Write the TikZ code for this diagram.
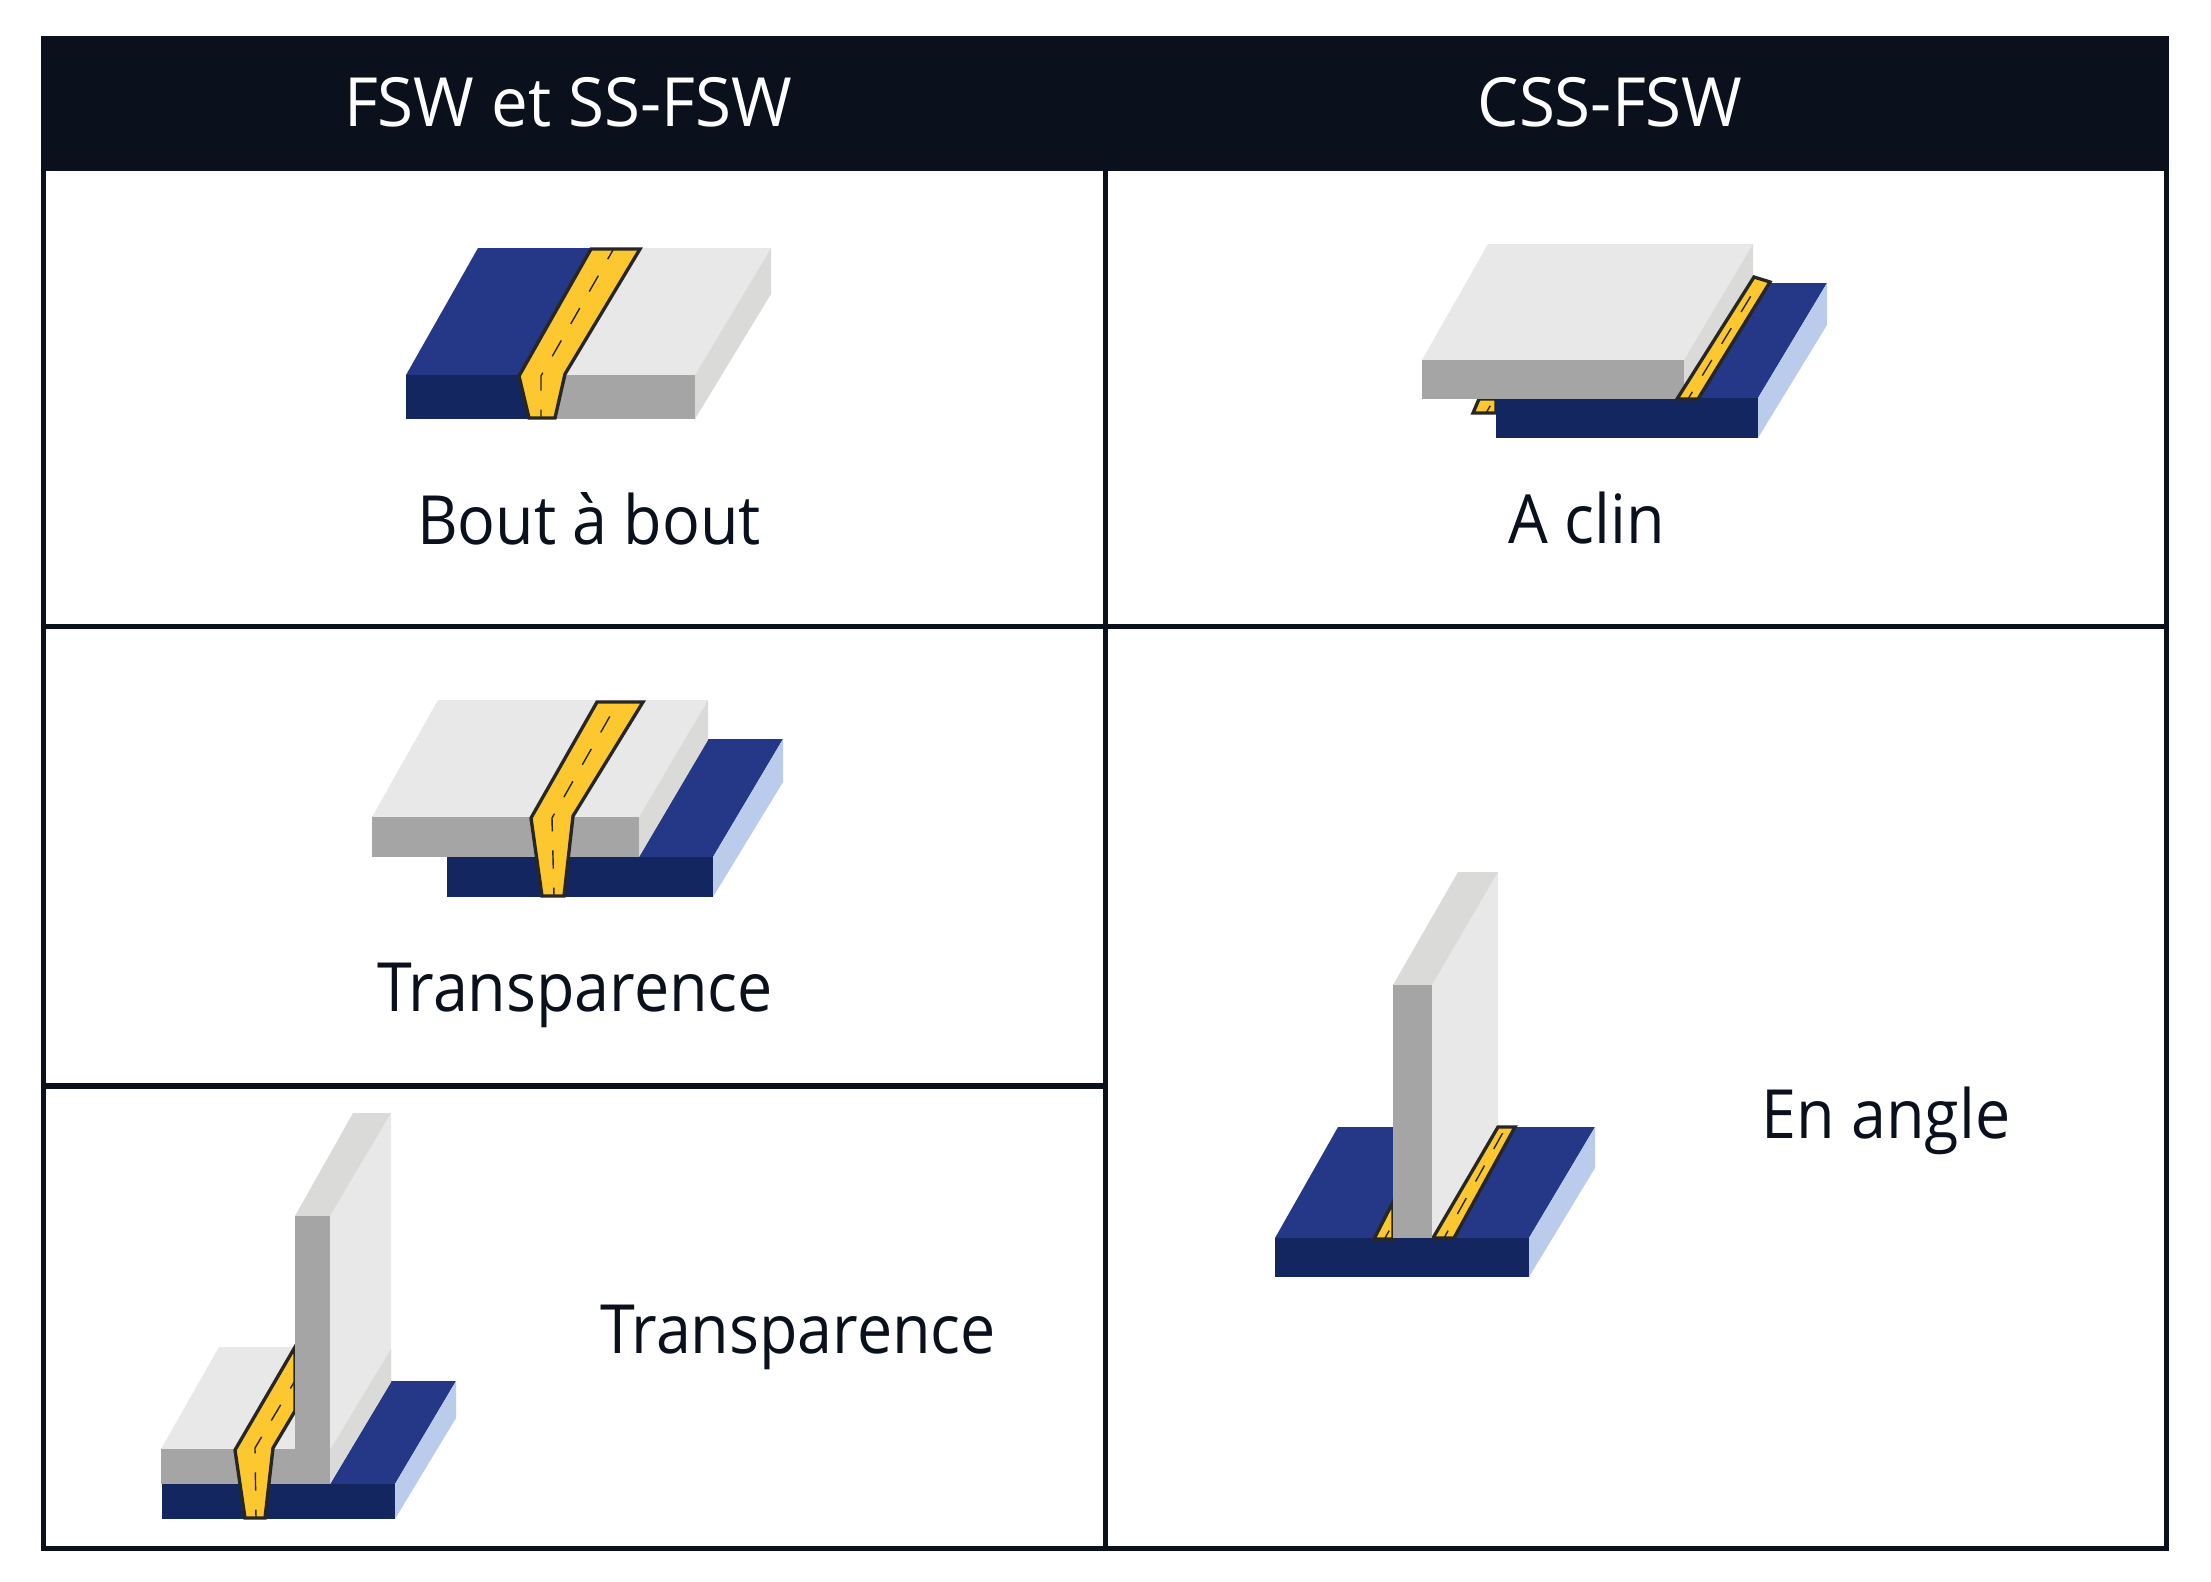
\documentclass[tikz,border=0pt]{standalone}
\usepackage{fontspec}
\setmainfont[FakeStretch=0.925]{Open Sans}
\newfontfamily\headfont[FakeStretch=0.965]{Open Sans}
\definecolor{blueTop}{HTML}{243887}
\definecolor{blueFront}{HTML}{142660}
\definecolor{blueSide}{HTML}{BBCBEC}
\definecolor{greyTop}{HTML}{E8E8E8}
\definecolor{greySide}{HTML}{DADAD8}
\definecolor{greyFront}{HTML}{A5A5A5}
\definecolor{weldYellow}{HTML}{FDC82F}
\definecolor{headDark}{HTML}{0A101C}

\begin{document}
\begin{tikzpicture}[x=0.01cm, y=-0.01cm,
	bluetop/.style={fill=blueTop}, bluefront/.style={fill=blueFront}, blueside/.style={fill=blueSide},
	greytop/.style={fill=greyTop}, greyside/.style={fill=greySide}, greyfront/.style={fill=greyFront},
	weld/.style={draw=black!85, fill=weldYellow, line width=0.95pt, line join=miter},
	weldline/.style={draw=black!85, line width=0.4pt, dash pattern=on 5.2pt off 5.4pt, dash phase=2.8pt},
	gridline/.style={draw=headDark, line width=1.5pt},
	celltext/.style={text=headDark, font=\fontsize{19.3pt}{23pt}\selectfont, anchor=base, inner sep=0pt},
	headtext/.style={text=white, font=\headfont\fontsize{19.3pt}{23pt}\selectfont, anchor=base, inner sep=0pt}]
	\useasboundingbox (0,0) rectangle (2211,1581);
	% table
	\fill[headDark] (41,36) rectangle (2169,171);
	\draw[gridline] (43.5,171) -- (43.5,1548.5) -- (2166.5,1548.5) -- (2166.5,171);
	\draw[gridline] (1105.5,171) -- (1105.5,1548.5);
	\draw[gridline] (43.5,626.5) -- (2166.5,626.5);
	\draw[gridline] (43.5,1086) -- (1105.5,1086);
	\node[headtext] (headleft) at (568,126) {FSW et SS-FSW};
	\node[headtext] (headright) at (1610,126) {CSS-FSW};
	% butt joint
	\fill[bluetop] (478,248) -- (600,248) -- (520,375) -- (406,375) -- cycle;
	\fill[bluefront] (406,375) rectangle (530,419);
	\fill[greytop] (630,248) -- (771,248) -- (695,375) -- (560,375) -- cycle;
	\fill[greyside] (695,375) -- (771,248) -- (771,294) -- (695,419) -- cycle;
	\fill[greyfront] (550,375) rectangle (695,419);
	\draw[weld] (591,249) -- (640,249) -- (565,374) -- (555,418) -- (529,418) -- (519,376) -- cycle;
	\draw[weldline] (541,418) -- (541,376) -- (613,250);
	\node[celltext] (buttlabel) at (589,544) {Bout à bout};
	% lap joint
	\fill[bluetop] (1684,398) -- (1758,398) -- (1827,283) -- (1753,283) -- cycle;
	\fill[blueside] (1758,398) -- (1827,283) -- (1827,325) -- (1758,438) -- cycle;
	\draw[weld] (1479,399) -- (1473,413) -- (1496,413) -- (1496,399) -- cycle;
	\draw[weldline] (1486,413) -- (1496,396);
	\fill[bluefront] (1496,398) rectangle (1758,438);
	\fill[greytop] (1488,244) -- (1753,244) -- (1684,360) -- (1422,360) -- cycle;
	\fill[greyside] (1684,360) -- (1753,244) -- (1753,283) -- (1684,399) -- cycle;
	\fill[greyfront] (1422,360) rectangle (1684,399);
	\draw[weld] (1754,277) -- (1770,282) -- (1698,399) -- (1677,399) -- cycle;
	\draw[weldline] (1688,399) -- (1760,281);
	\node[celltext] (laplabel) at (1587,543) {A clin};
	% overlap joint
	\fill[bluetop] (639,857) -- (713,857) -- (783,739) -- (708,739) -- cycle;
	\fill[blueside] (713,857) -- (783,739) -- (783,782) -- (713,897) -- cycle;
	\fill[bluefront] (447,857) rectangle (713,897);
	\fill[greytop] (438,700) -- (708,700) -- (639,817) -- (372,817) -- cycle;
	\fill[greyside] (639,817) -- (708,700) -- (708,740) -- (639,857) -- cycle;
	\fill[greyfront] (372,817) rectangle (639,857);
	\draw[weld] (597,702) -- (643,702) -- (573,816) -- (564,896) -- (542,896) -- (531,818) -- cycle;
	\draw[weldline] (554,896) -- (552,818) -- (618,702);
	\node[celltext] (overlaplabel) at (575,1011) {Transparence};
	% T joint through the plate
	\fill[bluetop] (330,1484) -- (395,1484) -- (456,1381) -- (390,1381) -- cycle;
	\fill[blueside] (395,1484) -- (456,1381) -- (456,1418) -- (395,1519) -- cycle;
	\fill[bluefront] (162,1484) rectangle (395,1519);
	\fill[greytop] (219,1347) -- (300,1347) -- (300,1449) -- (161,1449) -- cycle;
	\fill[greyfront] (161,1449) rectangle (330,1484);
	\fill[greytop] (330,1216) -- (391,1113) -- (391,1382) -- (330,1484) -- cycle;
	\fill[greyside] (330,1450) -- (391,1349) -- (391,1382) -- (330,1484) -- cycle;
	\fill[greyside] (295,1216) -- (330,1216) -- (391,1113) -- (353,1113) -- cycle;
	\draw[weld] (295,1347) -- (295,1411) -- (273,1448) -- (265,1518) -- (245,1518) -- (235,1450) -- cycle;
	\draw[weldline] (256,1518) -- (255,1448) -- (296,1379);
	\fill[greyfront] (295,1216) rectangle (330,1449);
	\node[celltext] (teelabel) at (798,1353) {Transparence};
	% corner joint
	\fill[bluetop] (1338,1127) -- (1595,1127) -- (1529,1238) -- (1275,1238) -- cycle;
	\fill[blueside] (1529,1238) -- (1595,1127) -- (1595,1168) -- (1529,1277) -- cycle;
	\fill[bluefront] (1275,1238) rectangle (1529,1277);
	\fill[greytop] (1432,985) -- (1498,872) -- (1498,1127) -- (1432,1238) -- cycle;
	\fill[greyside] (1393,985) -- (1432,985) -- (1498,872) -- (1458,872) -- cycle;
	\draw[weld] (1498,1127) -- (1515,1127) -- (1454,1238) -- (1433,1238) -- cycle;
	\draw[weldline] (1444,1238) -- (1506,1127);
	\draw[weld] (1393,1202) -- (1374,1239) -- (1393,1239) -- cycle;
	\draw[weldline] (1385,1238) -- (1393,1224);
	\fill[greyfront] (1393,985) rectangle (1432,1238);
	\node[celltext] (cornerlabel) at (1886,1138) {En angle};
\end{tikzpicture}
\end{document}
